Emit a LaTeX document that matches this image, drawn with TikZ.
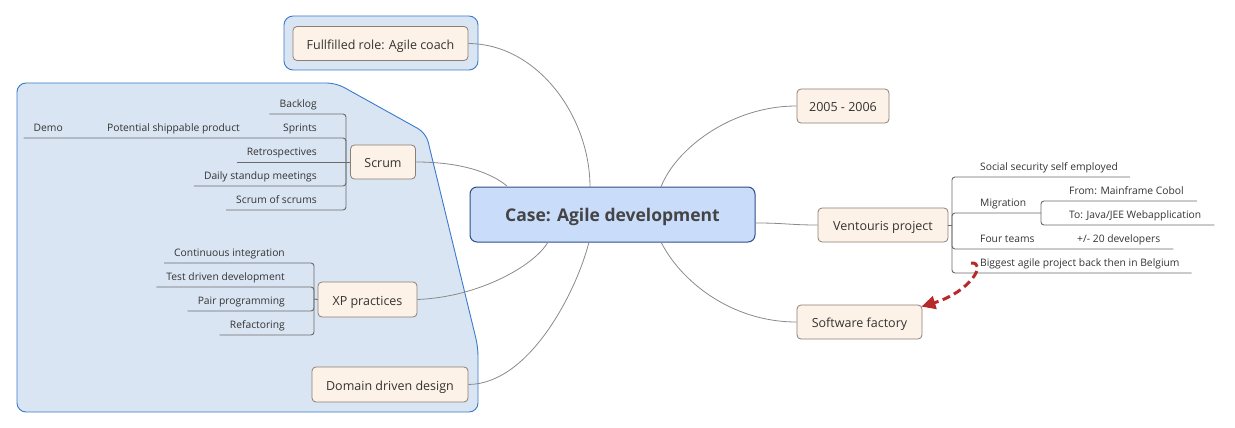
\documentclass[tikz,border=0pt]{standalone}
\usepackage{fontspec}
\setmainfont{Open Sans}
\usetikzlibrary{arrows.meta,calc}
\definecolor{nodefill}{HTML}{FDF2E8}
\definecolor{nodeline}{HTML}{8C7E74}
\definecolor{grpfill}{HTML}{DAE5F3}
\definecolor{grpline}{HTML}{3A7ACB}
\definecolor{cfill}{HTML}{C9DCFA}
\definecolor{cline}{HTML}{2E4E86}
\definecolor{conncol}{HTML}{8A8A8A}
\definecolor{leafcol}{HTML}{6A6A6A}
\definecolor{txt}{HTML}{333333}
\definecolor{ctxt}{HTML}{444444}
\definecolor{linkred}{HTML}{B8292A}
\begin{document}
\begin{tikzpicture}[x=1pt,y=-1pt,
  topic/.style={draw=nodeline, fill=nodefill, rounded corners=4pt, line width=0.8pt,
    text=txt, font=\fontsize{12.5}{14}\selectfont, inner sep=0pt, minimum height=34pt,
    text height=11.8pt, text depth=0pt},
  centraltopic/.style={draw=cline, fill=cfill, rounded corners=7pt, line width=1pt,
    text=ctxt, font=\fontsize{17.5}{20}\selectfont\bfseries, inner sep=0pt,
    minimum width=285pt, minimum height=55pt, text height=14.4pt, text depth=0pt},
  leaf/.style={text=txt, font=\fontsize{10.3}{12}\selectfont, inner sep=0pt},
  connector/.style={draw=conncol, line width=0.8pt},
  bline/.style={draw=leafcol, line width=0.9pt, rounded corners=3pt},
  grp/.style={draw=grpline, fill=grpfill, line width=0.9pt, rounded corners=9pt},
  link/.style={draw=linkred, line width=3pt, dash pattern=on 8pt off 4.5pt,
    -{Triangle[length=14pt,width=13pt]}}
]
\useasboundingbox (0,0) rectangle (1235,428);

% groups (boundaries)
\path[grp] (284,16) rectangle (478,70);
\path[grp] (17,83) -- (336,83) -- (426,133) -- (478,347) -- (478,412) -- (17,412) -- cycle;

% main topics
\node[centraltopic] (central) at (612.5,214.5) {Case: Agile development};
\node[topic, minimum width=175pt] (fr) at (380.5,43.5) {Fullfilled role: Agile coach};
\node[topic, minimum width=65pt] (scrum) at (383,162) {Scrum};
\node[topic, minimum width=99pt, minimum height=35pt] (xp) at (367.5,299.5) {XP practices};
\node[topic, minimum width=156pt, minimum height=35pt] (ddd) at (390,384.5) {Domain driven design};
\node[topic, minimum width=92pt] (yr) at (843,106) {2005 - 2006};
\node[topic, minimum width=130pt] (vent) at (883,225) {Ventouris project};
\node[topic, minimum width=125pt] (sf) at (859.5,322) {Software factory};

% connectors from the central topic
\coordinate (cFr) at (590,187);
\coordinate (cYr) at (661,187);
\coordinate (cScrum) at (507,186);
\coordinate (cXp) at (548,242);
\coordinate (cDdd) at (589,242);
\coordinate (cSf) at (661,242);
\coordinate (cVent) at (756,223);
\draw[connector] (fr.east) .. controls (538,44) and (590,117) .. (cFr);
\draw[connector] (yr.west) .. controls (730,106) and (675,150) .. (cYr);
\draw[connector] (scrum.east) .. controls (460,162) and (490,172) .. (cScrum);
\draw[connector] (xp.east) .. controls (480,297) and (535,265) .. (cXp);
\draw[connector] (ddd.east) .. controls (530,384) and (577,290) .. (cDdd);
\draw[connector] (sf.west) .. controls (730,322) and (680,280) .. (cSf);
\draw[connector] (cVent) .. controls (785,223) and (790,225) .. (vent.west);

% Scrum subtopics
\node[leaf, anchor=base east] (bl) at (317,107.5) {Backlog};
\node[leaf, anchor=base east] (sp) at (317,131.5) {Sprints};
\node[leaf, anchor=base east] (psp) at (240,131.5) {Potential shippable product};
\node[leaf, anchor=base east] (demo) at (63,131.5) {Demo};
\node[leaf, anchor=base east] (re) at (317,155.5) {Retrospectives};
\node[leaf, anchor=base east] (ds) at (317,179.5) {Daily standup meetings};
\node[leaf, anchor=base east] (ss) at (317,203.5) {Scrum of scrums};
\coordinate (sj) at (346,162);
\draw[bline] ($(bl.base west)+(-10,6.5)$) -- (346,114) -- (sj);
\draw[bline] ($(demo.base west)+(-10,6.5)$) -- (346,138) -- (sj);
\draw[bline] ($(re.base west)+(-10,6.5)$) -- (sj);
\draw[bline] ($(ds.base west)+(-10,6.5)$) -- (346,186) -- (sj);
\draw[bline] ($(ss.base west)+(-10,6.5)$) -- (346,210) -- (sj);
\draw[bline] (sj) -- (scrum.west);

% XP subtopics
\node[leaf, anchor=base east] (ci) at (285,256.5) {Continuous integration};
\node[leaf, anchor=base east] (tdd) at (285,280.5) {Test driven development};
\node[leaf, anchor=base east] (pp) at (285,304.5) {Pair programming};
\node[leaf, anchor=base east] (rf) at (285,328.5) {Refactoring};
\coordinate (xj) at (314,299);
\draw[bline] ($(ci.base west)+(-10,6.5)$) -- (314,263) -- (xj);
\draw[bline] ($(tdd.base west)+(-10,6.5)$) -- (314,287) -- (xj);
\draw[bline] ($(pp.base west)+(-10,6.5)$) -- (314,311) -- (xj);
\draw[bline] ($(rf.base west)+(-10,6.5)$) -- (314,335) -- (xj);
\draw[bline] (xj) -- (xp.west);

% Ventouris subtopics
\node[leaf, anchor=base west] (soc) at (980,170.5) {Social security self employed};
\node[leaf, anchor=base west] (mig) at (980,206.5) {Migration};
\node[leaf, anchor=base west] (from) at (1069,194.5) {From: Mainframe Cobol};
\node[leaf, anchor=base west] (to) at (1069,218.5) {To: Java/JEE Webapplication};
\node[leaf, anchor=base west] (four) at (980,242.5) {Four teams};
\node[leaf, anchor=base west] (dev) at (1077,242.5) {+/- 20 developers};
\node[leaf, anchor=base west] (big) at (980,266.5) {Biggest agile project back then in Belgium};
\coordinate (vj) at (952,225);
\coordinate (mj) at (1041,213);
\draw[bline] (vent.east) -- (vj);
\draw[bline] (vj) -- (952,177) -- ($(soc.base east)+(12,6.5)$);
\draw[bline] (vj) -- (952,213) -- (mj);
\draw[bline] (vj) -- (952,249) -- ($(dev.base east)+(13,6.5)$);
\draw[bline] (vj) -- (952,273) -- ($(big.base east)+(12,6.5)$);
\draw[bline] (mj) -- (1041,201) -- ($(from.base east)+(13,6.5)$);
\draw[bline] (mj) -- (1041,225) -- ($(to.base east)+(13,6.5)$);

% relationship link
\coordinate (lk) at ($(big.base west)+(-9,-3.5)$);
\draw[link] (lk) .. controls (988,262) and (970,292) .. ($(sf.north east)+(-1,2)$);
\end{tikzpicture}
\end{document}
